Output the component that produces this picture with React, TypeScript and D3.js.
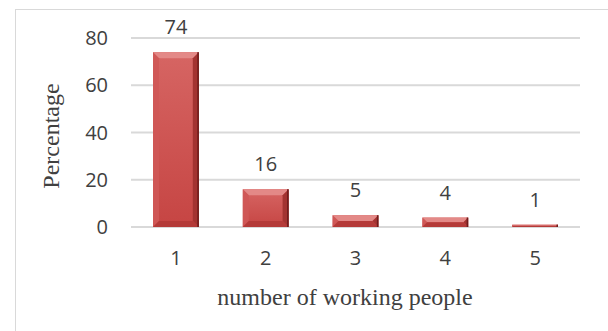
import React from "react";
import * as d3 from "d3";

const categories = ["1", "2", "3", "4", "5"];
const values = [74, 16, 5, 4, 1];
const yTicks = [0, 20, 40, 60, 80];
const xTitle = "number of working people";
const yTitle = "Percentage";

const W = 608;
const H = 331;

export default function App() {
  const x = d3.scaleBand<string>().domain(categories).range([131, 580]).paddingInner(0.49).paddingOuter(0.245);
  const y = d3.scaleLinear().domain([0, 80]).range([227, 38]);
  const sans = "'Open Sans', sans-serif";
  const serif = "'Liberation Serif', 'Times New Roman', serif";
  return (
    <svg width={W} height={H} style={{ position: "absolute", left: 0, top: 0, background: "#fff" }}>
      <defs>
        <linearGradient id="body" x1="0" x2="0" y1="0" y2="1">
          <stop offset="0" stopColor="#d66563" />
          <stop offset="1" stopColor="#c64543" />
        </linearGradient>
      </defs>
      <rect x={15.5} y={9.5} width={W} height={H} fill="none" stroke="#d9d9d9" strokeWidth={1} />
      {yTicks.map((t) => (
        <g key={t}>
          <line x1={131} x2={580} y1={y(t)} y2={y(t)} stroke="#d9d9d9" strokeWidth={2} />
          <text x={108} y={y(t) + 7} textAnchor="end" fontFamily={sans} fontSize={20} fill="#404040">
            {t}
          </text>
        </g>
      ))}
      {categories.map((c, i) => {
        const x0 = x(c)!;
        const bw = x.bandwidth();
        const top = y(values[i]);
        const bot = y(0);
        const h = bot - top;
        const b = Math.min(6, h / 2);
        const x1 = x0 + bw;
        return (
          <g key={c}>
            <rect x={x0} y={top} width={bw} height={h} fill="url(#body)" />
            <polygon points={`${x0},${top} ${x1},${top} ${x1 - b},${top + b} ${x0 + b},${top + b}`} fill="#e38987" />
            <polygon points={`${x0},${top} ${x0 + b},${top + b} ${x0 + b},${bot - b} ${x0},${bot}`} fill="#cf5856" opacity={0.9} />
            <polygon points={`${x1},${top} ${x1 - b},${top + b} ${x1 - b},${bot - b} ${x1},${bot}`} fill="#a33331" />
            <polygon points={`${x0},${bot} ${x0 + b},${bot - b} ${x1 - b},${bot - b} ${x1},${bot}`} fill="#b43a38" />
            <rect x={x1 - 1.5} y={top} width={1.5} height={h} fill="#6e1c1b" />
            <text x={x0 + bw / 2} y={top - 18} textAnchor="middle" fontFamily={sans} fontSize={20} fill="#404040">
              {values[i]}
            </text>
            <text x={x0 + bw / 2} y={265} textAnchor="middle" fontFamily={sans} fontSize={20} fill="#404040">
              {c}
            </text>
          </g>
        );
      })}
      <text x={345} y={305} textAnchor="middle" fontFamily={serif} fontSize={24} fill="#404040">
        {xTitle}
      </text>
      <text transform={`translate(59,136) rotate(-90)`} textAnchor="middle" fontFamily={serif} fontSize={24} fill="#404040">
        {yTitle}
      </text>
    </svg>
  );
}
